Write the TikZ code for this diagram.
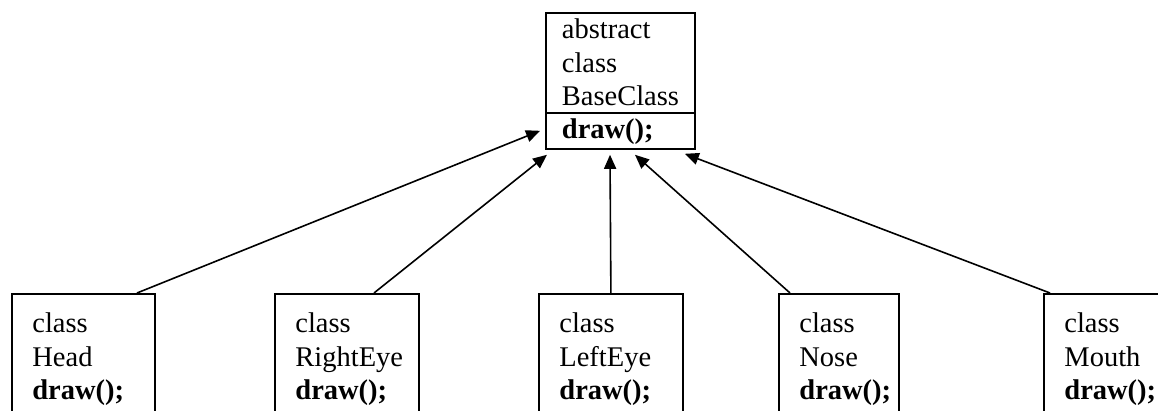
\documentclass[tikz,border=0pt]{standalone}
\usepackage{fontspec}
\setmainfont{Liberation Serif}
\usepackage{tikz}
\usetikzlibrary{arrows.meta}

\begin{document}
\begin{tikzpicture}[x=1pt, y=-1pt,
  font=\fontsize{28.5}{33.3}\selectfont,
  >={Triangle[length=14pt,width=12pt]},
  basebox/.style={draw, line width=1.8pt, anchor=north west, inner sep=0pt,
    align=left, text width=149pt, text height=26pt, text depth=110pt,
    execute at begin node={\leftskip=16pt}},
  classbox/.style={draw, line width=1.8pt, anchor=north west, inner sep=0pt,
    align=left, text height=39pt, text depth=160pt,
    execute at begin node={\leftskip=20.5pt}},
  arr/.style={->, line width=1.6pt}]
\useasboundingbox (0,0) rectangle (1158,411);
\clip (0,0) rectangle (1158,411);
% ---------- abstract base class ----------
\node[basebox] (base) at (545,12) {abstract\\class\\BaseClass\\\textbf{draw();}};
\draw[line width=1.8pt] ([shift={(0,101)}]base.north west) -- ([shift={(0,101)}]base.north east);
% ---------- derived classes ----------
\node[classbox, text width=143pt] (head)  at (11,293)   {class\\Head\\\textbf{draw();}};
\node[classbox, text width=144pt] (reye)  at (274,293)  {class\\RightEye\\\textbf{draw();}};
\node[classbox, text width=144pt] (leye)  at (538,293)  {class\\LeftEye\\\textbf{draw();}};
\node[classbox, text width=120pt] (nose)  at (778,293)  {class\\Nose\\\textbf{draw();}};
\node[classbox, text width=144pt] (mouth) at (1043,293) {class\\Mouth\\\textbf{draw();}};
% ---------- inheritance arrows ----------
\draw[arr] ([shift={(126,0)}]head.north west) -- ([shift={(-5,-19)}]base.south west);
\draw[arr] ([shift={(100,0)}]reye.north west) -- ([shift={(2,5)}]base.south west);
\draw[arr] (leye.north) -- ([shift={(65,5)}]base.south west);
\draw[arr] ([shift={(12,0)}]nose.north west) -- ([shift={(90,5)}]base.south west);
\draw[arr] ([shift={(7,0)}]mouth.north west) -- ([shift={(-11,4)}]base.south east);
\end{tikzpicture}
\end{document}
